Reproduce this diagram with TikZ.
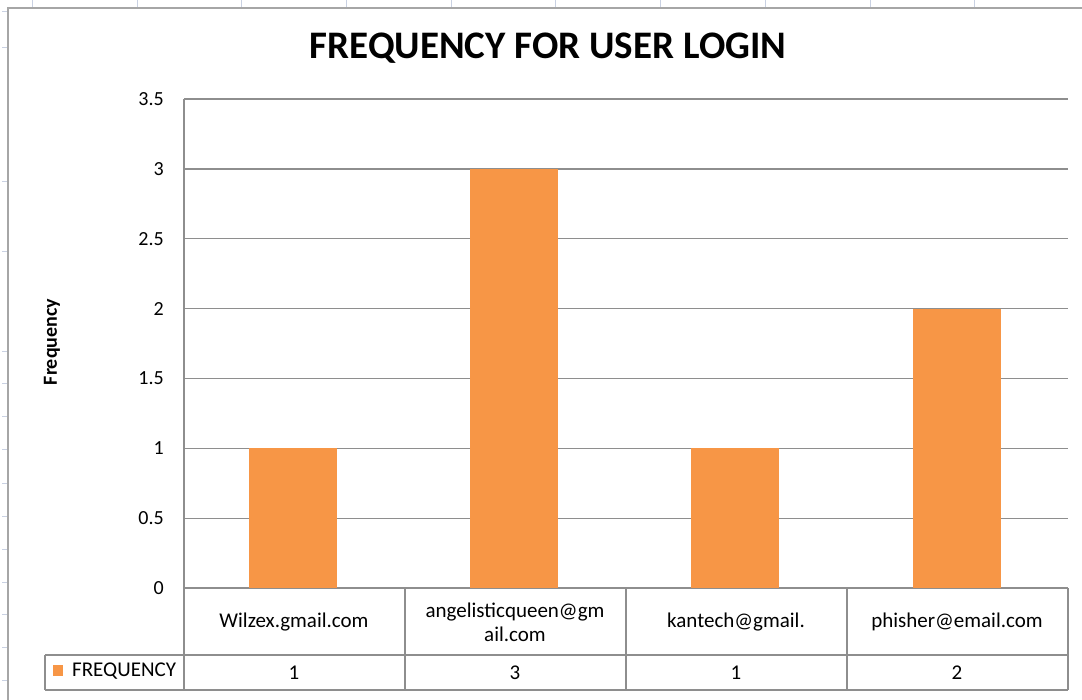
\documentclass[tikz,border=0pt]{standalone}
\usepackage{fontspec}
\setmainfont{Carlito}
\usetikzlibrary{positioning,calc}
\definecolor{barorange}{HTML}{F79646}
\definecolor{linegray}{HTML}{8E8E8E}
\definecolor{framegray}{HTML}{A6A6A6}
\definecolor{tickblue}{HTML}{C9D1E2}
\tikzstyle{gridline}=[draw=linegray, line width=1.3pt]
\tikzstyle{frame}=[draw=framegray, line width=2pt]
\tikzstyle{sheettick}=[draw=tickblue, line width=1pt]
\tikzstyle{bar}=[fill=barorange, draw=none]
\tikzstyle{ylab}=[anchor=east, inner sep=0, font=\fontsize{20}{22}\selectfont]
\tikzstyle{cell}=[align=center, inner sep=0, font=\fontsize{21}{24}\selectfont]

\begin{document}
\begin{tikzpicture}[x=1pt, y=-1pt]
    \useasboundingbox (0,0) rectangle (1082,700);
    % sheet ticks round the chart
    \foreach \tx in {32,137,241,346,451,555,660,765,870,974}
        \draw[sheettick] (\tx,0) -- (\tx,7);
    \foreach \ty in {12,48,182,252,352,384,417,450,483,516,549,582,614,647,680}
        \draw[sheettick] (2,\ty) -- (8,\ty);
    % chart frame
    \draw[frame] (8,700) -- (8,8) -- (1082,8);
    \node (title) at (548,48) {\fontsize{39}{42}\selectfont\bfseries FREQUENCY FOR USER LOGIN};
    \node[rotate=90, inner sep=0] (ytitle) at (52,342) {\fontsize{20}{22}\selectfont\bfseries Frequency};
    % value axis and gridlines
    \foreach \v [count=\i] in {0,0.5,1,1.5,2,2.5,3,3.5} {
        \draw[gridline] (184,{588-139.7*\v}) -- (1068,{588-139.7*\v});
        \node[ylab] (tick\i) at (164,{588-139.7*\v}) {\v};
    }
    \draw[gridline] (184,99) -- (184,690);
    % bars
    \foreach \cx/\val in {293/1,514/3,735/1,957/2}
        \fill[bar] (\cx-44,588) rectangle (\cx+44,{588-139.7*\val});
    % data table
    \draw[gridline] (45,655) -- (1068,655);
    \draw[gridline] (45,690) -- (1068,690);
    \draw[gridline] (45,655) -- (45,690);
    \foreach \lx in {405,626,847,1068}
        \draw[gridline] (\lx,588) -- (\lx,690);
    \node[cell] (cat1) at (294,622) {Wilzex.gmail.com};
    \node[cell] (cat2) at (515,622) {angelisticqueen@gm\\ail.com};
    \node[cell] (cat3) at (736,622) {kantech@gmail.};
    \node[cell] (cat4) at (957,622) {phisher@email.com};
    \node[cell] (val1) at (294,673) {1};
    \node[cell] (val2) at (515,673) {3};
    \node[cell] (val3) at (736,673) {1};
    \node[cell] (val4) at (957,673) {2};
    % legend key
    \fill[bar] (53,665) rectangle (63,676);
    \node[cell, anchor=west] (legend) at (72,671) {FREQUENCY};
\end{tikzpicture}
\end{document}
